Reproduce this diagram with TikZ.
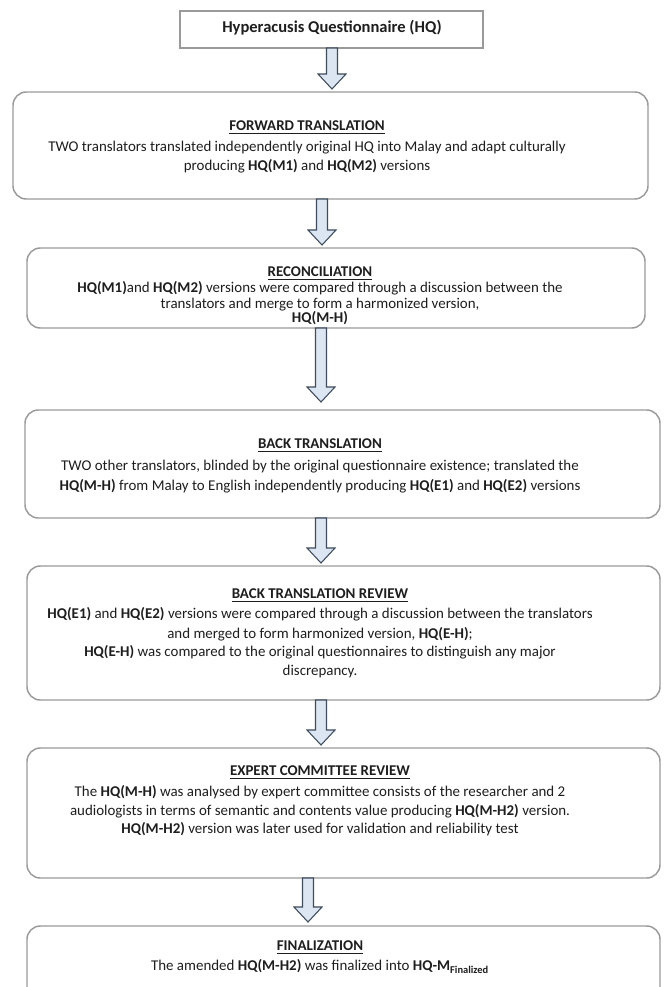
\documentclass[tikz,border=0pt]{standalone}
\usepackage{fontspec}
\setmainfont{Carlito}
\usetikzlibrary{fit}
\definecolor{boxline}{HTML}{9A9A9A}
\definecolor{arrfill}{HTML}{DCE6F2}
\definecolor{arrline}{HTML}{3E4C5C}
\definecolor{txt}{HTML}{1E1E1E}
\newcommand\flowarrow[4]{% x, ytop, ytip, head height
  \draw[arrowshape] (#1-5.5,#2) -- (#1+5.5,#2) -- (#1+5.5,#3-#4) -- (#1+14,#3-#4)
    -- (#1,#3) -- (#1-14,#3-#4) -- (#1-5.5,#3-#4) -- cycle;}
\tikzset{
  stagebox/.style={draw=boxline, line width=1.1pt, rounded corners=10pt, inner sep=0pt},
  titlebox/.style={draw=boxline, line width=0.9pt, inner sep=0pt},
  arrowshape/.style={fill=arrfill, draw=arrline, line width=0.8pt, line join=miter},
  txtline/.style={font=\fontsize{11.2}{13}\selectfont, text=txt, inner sep=0pt,
    text height=8pt, text depth=2.2pt, anchor=center},
  titletxt/.style={txtline, font=\fontsize{12.4}{14}\selectfont},
}
\begin{document}
\begin{tikzpicture}[x=0.75pt, y=-0.75pt]
\useasboundingbox (0,0) rectangle (666,987);
\clip (0,0) rectangle (666,987);
\fill[white] (0,0) rectangle (666,987);

% boxes
\node[titlebox, fit={(180,11) (483,48)}] (b0) {};
\node[stagebox, fit={(13,92) (648,199)}] (b1) {};
\node[stagebox, fit={(27,248) (645,328)}] (b2) {};
\node[stagebox, fit={(25,410) (660,518)}] (b3) {};
\node[stagebox, fit={(27,566) (660,700)}] (b4) {};
\node[stagebox, fit={(27,748) (660,878)}] (b5) {};
\node[stagebox, fit={(27,926) (660,1020)}] (b6) {};

% arrows
\flowarrow{332}{48}{89}{15}
\flowarrow{322}{199}{245}{15}
\flowarrow{321}{328}{402}{15}
\flowarrow{321}{518}{563}{15}
\flowarrow{321}{700}{745}{15}
\flowarrow{308}{878}{922}{15}

% texts
\node[titletxt] (t0) at (332,29) {\textbf{Hyperacusis Questionnaire (HQ)}};

\node[txtline] (t1a) at (307,127) {\textbf{\underline{FORWARD TRANSLATION}}};
\node[txtline] (t1b) at (307,148) {TWO translators translated independently original HQ into Malay and adapt culturally};
\node[txtline] (t1c) at (307,167) {producing \textbf{HQ(M1)} and \textbf{HQ(M2)} versions};

\node[txtline] (t2a) at (320,273) {\textbf{\underline{RECONCILIATION}}};
\node[txtline] (t2b) at (320,289) {\textbf{HQ(M1)}and \textbf{HQ(M2)} versions were compared through a discussion between the};
\node[txtline] (t2c) at (320,305) {translators and merge to form a harmonized version,};
\node[txtline] (t2d) at (320,319) {\textbf{HQ(M-H)}};

\node[txtline] (t3a) at (320,445) {\textbf{\underline{BACK TRANSLATION}}};
\node[txtline] (t3b) at (320,467) {TWO other translators, blinded by the original questionnaire existence; translated the};
\node[txtline] (t3c) at (320,487) {\textbf{HQ(M-H)} from Malay to English independently producing \textbf{HQ(E1)} and \textbf{HQ(E2)} versions};

\node[txtline] (t4a) at (320,595) {\textbf{\underline{BACK TRANSLATION REVIEW}}};
\node[txtline] (t4b) at (320,615) {\textbf{HQ(E1)} and \textbf{HQ(E2)} versions were compared through a discussion between the translators};
\node[txtline] (t4c) at (320,635) {and merged to form harmonized version, \textbf{HQ(E-H)};};
\node[txtline] (t4d) at (320,653) {\textbf{HQ(E-H)} was compared to the original questionnaires to distinguish any major};
\node[txtline] (t4e) at (320,672) {discrepancy.};

\node[txtline] (t5a) at (320,772) {\textbf{\underline{EXPERT COMMITTEE REVIEW}}};
\node[txtline] (t5b) at (320,793) {The \textbf{HQ(M-H)} was analysed by expert committee consists of the researcher and 2};
\node[txtline] (t5c) at (320,812) {audiologists in terms of semantic and contents value producing \textbf{HQ(M-H2)} version.};
\node[txtline] (t5d) at (320,830) {\textbf{HQ(M-H2)} version was later used for validation and reliability test};

\node[txtline] (t6a) at (320,947) {\textbf{\underline{FINALIZATION}}};
\node[txtline] (t6b) at (320,967) {The amended \textbf{HQ(M-H2)} was finalized into \textbf{HQ-M\textsubscript{Finalized}}};
\end{tikzpicture}
\end{document}
